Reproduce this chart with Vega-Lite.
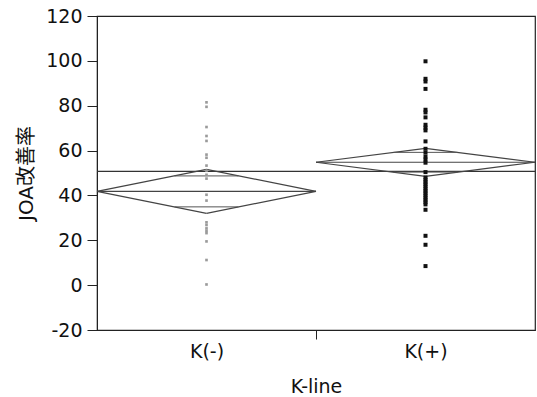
{
  "$schema": "https://vega.github.io/schema/vega-lite/v6.json",
  "width": 438,
  "height": 314,
  "autosize": "none",
  "padding": {"left": 97, "top": 16, "right": 2, "bottom": 67},
  "background": "white",
  "config": {
    "view": {"stroke": "#222", "strokeWidth": 1.2},
    "font": "DejaVu Sans",
    "axis": {
      "labelFont": "DejaVu Sans",
      "titleFont": "DejaVu Sans, Noto Sans CJK JP",
      "labelColor": "#111",
      "titleColor": "#111",
      "labelFontSize": 19,
      "titleFontSize": 19,
      "titleFontWeight": "normal",
      "domainColor": "#222",
      "tickColor": "#222",
      "grid": false
    }
  },
  "datasets": {
    "pts": [
      {"group": "K(-)", "k": 0.5, "v": 81.5},
      {"group": "K(-)", "k": 0.5, "v": 79.5},
      {"group": "K(-)", "k": 0.5, "v": 70.5},
      {"group": "K(-)", "k": 0.5, "v": 66.5},
      {"group": "K(-)", "k": 0.5, "v": 64.3},
      {"group": "K(-)", "k": 0.5, "v": 58.2},
      {"group": "K(-)", "k": 0.5, "v": 56.8},
      {"group": "K(-)", "k": 0.5, "v": 53.3},
      {"group": "K(-)", "k": 0.5, "v": 51.0},
      {"group": "K(-)", "k": 0.5, "v": 49.2},
      {"group": "K(-)", "k": 0.5, "v": 47.5},
      {"group": "K(-)", "k": 0.5, "v": 40.3},
      {"group": "K(-)", "k": 0.5, "v": 37.7},
      {"group": "K(-)", "k": 0.5, "v": 28.0},
      {"group": "K(-)", "k": 0.5, "v": 26.8},
      {"group": "K(-)", "k": 0.5, "v": 25.3},
      {"group": "K(-)", "k": 0.5, "v": 24.2},
      {"group": "K(-)", "k": 0.5, "v": 23.2},
      {"group": "K(-)", "k": 0.5, "v": 19.5},
      {"group": "K(-)", "k": 0.5, "v": 11.2},
      {"group": "K(-)", "k": 0.5, "v": 0.3},
      {"group": "K(+)", "k": 1.5, "v": 99.8},
      {"group": "K(+)", "k": 1.5, "v": 92.0},
      {"group": "K(+)", "k": 1.5, "v": 90.8},
      {"group": "K(+)", "k": 1.5, "v": 87.5},
      {"group": "K(+)", "k": 1.5, "v": 78.2},
      {"group": "K(+)", "k": 1.5, "v": 77.0},
      {"group": "K(+)", "k": 1.5, "v": 74.8},
      {"group": "K(+)", "k": 1.5, "v": 71.5},
      {"group": "K(+)", "k": 1.5, "v": 70.2},
      {"group": "K(+)", "k": 1.5, "v": 69.0},
      {"group": "K(+)", "k": 1.5, "v": 64.1},
      {"group": "K(+)", "k": 1.5, "v": 60.8},
      {"group": "K(+)", "k": 1.5, "v": 59.1},
      {"group": "K(+)", "k": 1.5, "v": 57.3},
      {"group": "K(+)", "k": 1.5, "v": 56.0},
      {"group": "K(+)", "k": 1.5, "v": 54.6},
      {"group": "K(+)", "k": 1.5, "v": 50.4},
      {"group": "K(+)", "k": 1.5, "v": 48.0},
      {"group": "K(+)", "k": 1.5, "v": 47.0},
      {"group": "K(+)", "k": 1.5, "v": 46.0},
      {"group": "K(+)", "k": 1.5, "v": 45.0},
      {"group": "K(+)", "k": 1.5, "v": 44.0},
      {"group": "K(+)", "k": 1.5, "v": 43.0},
      {"group": "K(+)", "k": 1.5, "v": 42.0},
      {"group": "K(+)", "k": 1.5, "v": 41.0},
      {"group": "K(+)", "k": 1.5, "v": 40.0},
      {"group": "K(+)", "k": 1.5, "v": 39.0},
      {"group": "K(+)", "k": 1.5, "v": 38.0},
      {"group": "K(+)", "k": 1.5, "v": 37.0},
      {"group": "K(+)", "k": 1.5, "v": 36.0},
      {"group": "K(+)", "k": 1.5, "v": 33.6},
      {"group": "K(+)", "k": 1.5, "v": 22.0},
      {"group": "K(+)", "k": 1.5, "v": 18.0},
      {"group": "K(+)", "k": 1.5, "v": 8.5}
    ],
    "diam": [
      {"group": "K(-)", "lo": 0, "mid": 0.5, "hi": 1, "mean": 41.8, "upper": 51.6, "lower": 32.0, "oupper": 48.7, "olower": 34.9, "olo": 0.354, "ohi": 0.646},
      {"group": "K(+)", "lo": 1, "mid": 1.5, "hi": 2, "mean": 54.8, "upper": 61.0, "lower": 48.5, "oupper": 59.2, "olower": 50.4, "olo": 1.354, "ohi": 1.646}
    ],
    "grand": [{"gm": 50.7}]
  },
  "layer": [
    {
      "data": {"name": "grand"},
      "mark": {"type": "rule", "color": "#333", "strokeWidth": 1.2},
      "encoding": {"y": {"field": "gm", "type": "quantitative"}}
    },
    {
      "data": {"name": "diam"},
      "mark": {"type": "rule", "color": "#444", "strokeWidth": 1.2},
      "encoding": {
        "x": {"field": "lo", "type": "quantitative"},
        "x2": {"field": "mid"},
        "y": {"field": "mean", "type": "quantitative"},
        "y2": {"field": "upper"}
      }
    },
    {
      "data": {"name": "diam"},
      "mark": {"type": "rule", "color": "#444", "strokeWidth": 1.2},
      "encoding": {
        "x": {"field": "mid", "type": "quantitative"},
        "x2": {"field": "hi"},
        "y": {"field": "upper", "type": "quantitative"},
        "y2": {"field": "mean"}
      }
    },
    {
      "data": {"name": "diam"},
      "mark": {"type": "rule", "color": "#444", "strokeWidth": 1.2},
      "encoding": {
        "x": {"field": "lo", "type": "quantitative"},
        "x2": {"field": "mid"},
        "y": {"field": "mean", "type": "quantitative"},
        "y2": {"field": "lower"}
      }
    },
    {
      "data": {"name": "diam"},
      "mark": {"type": "rule", "color": "#444", "strokeWidth": 1.2},
      "encoding": {
        "x": {"field": "mid", "type": "quantitative"},
        "x2": {"field": "hi"},
        "y": {"field": "lower", "type": "quantitative"},
        "y2": {"field": "mean"}
      }
    },
    {
      "data": {"name": "diam"},
      "mark": {"type": "rule", "color": "#444", "strokeWidth": 1.2},
      "encoding": {
        "x": {"field": "lo", "type": "quantitative"},
        "x2": {"field": "hi"},
        "y": {"field": "mean", "type": "quantitative"}
      }
    },
    {
      "data": {"name": "diam"},
      "mark": {"type": "rule", "color": "#555", "strokeWidth": 1},
      "encoding": {
        "x": {"field": "olo", "type": "quantitative"},
        "x2": {"field": "ohi"},
        "y": {"field": "oupper", "type": "quantitative"}
      }
    },
    {
      "data": {"name": "diam"},
      "mark": {"type": "rule", "color": "#555", "strokeWidth": 1},
      "encoding": {
        "x": {"field": "olo", "type": "quantitative"},
        "x2": {"field": "ohi"},
        "y": {"field": "olower", "type": "quantitative"}
      }
    },
    {
      "data": {"name": "pts"},
      "mark": {"type": "square", "filled": true, "opacity": 1},
      "encoding": {
        "x": {
          "field": "k",
          "type": "quantitative",
          "scale": {"domain": [0, 2], "nice": false, "zero": false},
          "axis": {
            "values": [0.5, 1, 1.5],
            "labelExpr": "datum.value == 0.5 ? 'K(-)' : datum.value == 1.5 ? 'K(+)' : ''",
            "tickOpacity": {"condition": {"test": "datum.value == 1", "value": 1}, "value": 0},
            "tickSize": 9,
            "labelPadding": 3,
            "title": "K-line",
            "titlePadding": 16,
            "labelFlush": false
          }
        },
        "y": {
          "field": "v",
          "type": "quantitative",
          "scale": {"domain": [-20, 120], "nice": false, "zero": false},
          "axis": {
            "values": [-20, 0, 20, 40, 60, 80, 100, 120],
            "labelExpr": "datum.value < 0 ? '-' + abs(datum.value) : '' + datum.value",
            "tickSize": 10,
            "labelPadding": 5,
            "title": "JOA改善率",
            "titleFontSize": 20,
            "titlePadding": 9
          }
        },
        "color": {
          "field": "group",
          "type": "nominal",
          "scale": {"domain": ["K(-)", "K(+)"], "range": ["#9a9a9a", "#111111"]},
          "legend": null
        },
        "size": {
          "field": "group",
          "type": "nominal",
          "scale": {"domain": ["K(-)", "K(+)"], "range": [7, 16]},
          "legend": null
        }
      }
    }
  ]
}
